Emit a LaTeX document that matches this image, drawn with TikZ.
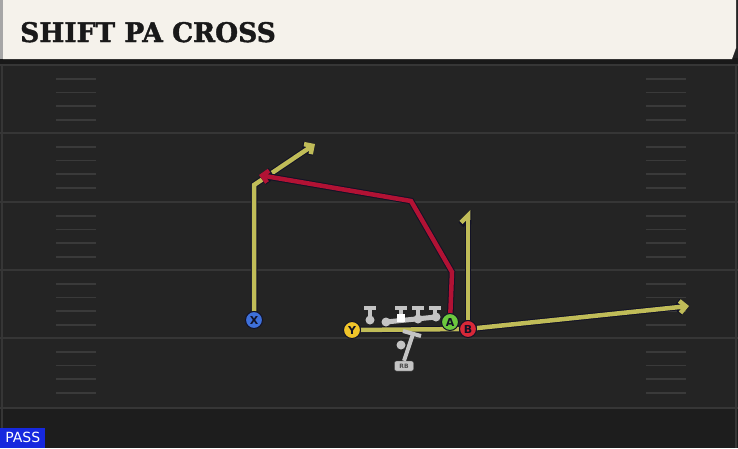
\documentclass[tikz,border=0pt]{standalone}
\usepackage{fontspec}
\usepackage{graphicx}
\usetikzlibrary{arrows.meta}

\newfontfamily\titlefont{DejaVu Serif}[BoldFont={DejaVu Serif Bold},
  BoldFeatures={FakeBold=1.5}]
\newfontfamily\labelfont{DejaVu Sans}

\definecolor{fieldbg}{RGB}{36,36,36}
\definecolor{fieldlow}{RGB}{29,29,29}
\definecolor{yardgray}{RGB}{54,54,54}
\definecolor{hashgray}{RGB}{58,58,58}
\definecolor{barcream}{RGB}{245,242,235}
\definecolor{routeyellow}{RGB}{192,188,88}
\definecolor{routered}{RGB}{178,18,52}
\definecolor{outline}{RGB}{18,18,38}
\definecolor{xblue}{RGB}{62,112,218}
\definecolor{yyellow}{RGB}{240,196,42}
\definecolor{agreen}{RGB}{108,200,62}
\definecolor{bred}{RGB}{216,40,56}
\definecolor{linegray}{RGB}{196,196,196}
\definecolor{passblue}{RGB}{22,40,222}

\pgfdeclarelayer{field}
\pgfdeclarelayer{routes}
\pgfsetlayers{field,routes,main}

\tikzset{
  route/.style = {line width=4.5pt, line join=miter,
                  preaction={draw=outline, line width=6.5pt}},
  player/.style = {circle, draw=outline, line width=1pt,
                   minimum size=17pt, inner sep=0pt, text=outline,
                   font=\labelfont\bfseries\fontsize{11}{11}\selectfont},
  yardline/.style = {draw=yardgray, line width=2.5pt},
  hashmark/.style = {draw=hashgray, line width=1.5pt},
  lineman/.style  = {draw=linegray, line width=4pt}
}

\begin{document}
\begin{tikzpicture}[x=1pt,y=-1pt]
  \useasboundingbox (0,0) rectangle (738,448);

  \begin{pgfonlayer}{field}
    % turf
    \fill[fieldbg] (0,0) rectangle (738,448);
    \fill[fieldlow] (0,408) rectangle (738,448);
    \foreach \y in {65,133,202,270,338,408}
      \draw[yardline] (0,\y) -- (738,\y);
    \foreach \y in {65,133,202,270,338}
      \foreach \d in {14,27.5,41,55} {
        \draw[hashmark] (56,\y+\d) -- (96,\y+\d);
        \draw[hashmark] (646,\y+\d) -- (686,\y+\d);
      }
    \draw[yardgray, line width=1.5pt] (2,63) -- (2,448) (736,63) -- (736,448);
    % title bar
    \fill[black!90] (0,58) rectangle (738,64);
    \fill[barcream] (3,0) -- (736,0) -- (736,48) -- (732,59) -- (3,59) -- cycle;
    \fill[gray!70] (0,0) rectangle (3,59);
  \end{pgfonlayer}

  \node[anchor=base west, inner sep=0pt, text=black!90,
        font=\titlefont\bfseries\fontsize{27}{27}\selectfont]
    (title) at (20,42) {\scalebox{0.98}[1]{SHIFT PA CROSS}};
  \node[anchor=south west, fill=passblue, text=white, inner sep=0pt,
        minimum width=45pt, minimum height=20pt,
        font=\labelfont\fontsize{14}{14}\selectfont]
    (pass) at (0,448) {PASS};

  % receivers
  \node[player, fill=xblue]   (X) at (254,320) {X};
  \node[player, fill=yyellow] (Y) at (352,330) {Y};
  \node[player, fill=agreen]  (A) at (450,322) {A};
  \node[player, fill=bred]    (B) at (468,329) {B};

  % offensive line
  \foreach \x in {370,401,418,435}
    \draw[lineman] (\x-6,308) -- (\x+6,308) (\x,308) -- (\x,319);
  \fill[linegray] (370,320) circle (4.5);
  \draw[lineman, line width=5pt, line cap=round] (386,322) -- (436,317);
  \foreach \x/\y in {386/322,418/319,436/317}
    \fill[linegray] (\x,\y) circle (4.5);
  \fill[white] (397,314) rectangle (405,322);

  % back
  \node[draw=black!70, fill=linegray, rounded corners=2pt, inner sep=0pt,
        minimum width=19pt, minimum height=10pt, text=black!70,
        font=\labelfont\bfseries\fontsize{6}{6}\selectfont]
    (RB) at (404,366) {RB};
  \draw[lineman] (RB.north) -- (413,334);
  \draw[lineman] (403,331) -- (421,336);
  \fill[linegray] (401,345) circle (4.5);

  % route ends and breaks
  \coordinate (xbreak) at (254,185);
  \coordinate (xend)   at (315,144);
  \coordinate (abreak) at (452,272);
  \coordinate (apost)  at (411,201);
  \coordinate (aend)   at (259,175);
  \coordinate (bend)   at (468,210);
  \coordinate (yend)   at (689,306);

  \begin{pgfonlayer}{routes}
    \draw[route, routeyellow, -{Straight Barb[length=6pt,width=12pt]}]
      (X) -- (xbreak) -- (xend);
    \draw[route, routered, -{Straight Barb[length=6pt,width=12pt]}]
      (A) -- (abreak) -- (apost) -- (aend);
    \draw[route, routeyellow, -{Straight Barb[harpoon,length=7pt,width=14pt]}]
      (B) -- (bend);
    \draw[route, routeyellow] (Y) -- (B);
    \draw[route, routeyellow, -{Straight Barb[length=6pt,width=12pt]}]
      (B) -- (yend);
  \end{pgfonlayer}
\end{tikzpicture}
\end{document}
